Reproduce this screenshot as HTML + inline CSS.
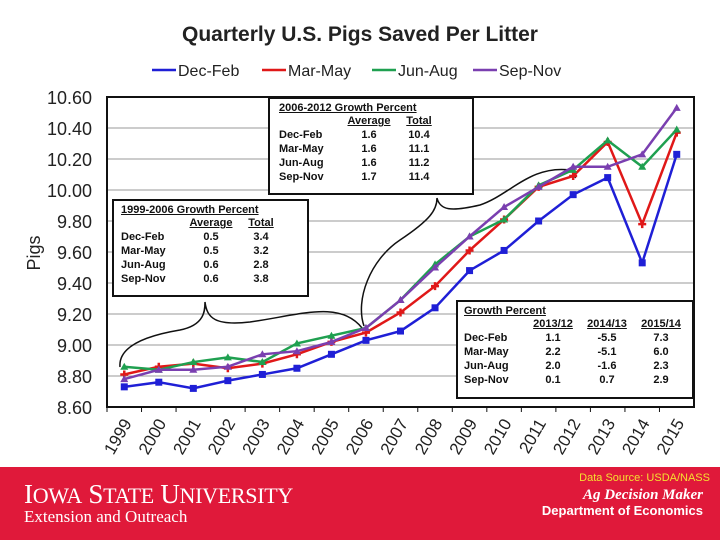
<!DOCTYPE html>
<html><head><meta charset="utf-8"><style>
body{margin:0;width:720px;height:540px;background:#fff;overflow:hidden;position:relative;font-family:"Liberation Sans",sans-serif}
.box{position:absolute;border:2px solid #111;background:#fff;font-weight:bold;font-size:11px;color:#111}
.box table{border-collapse:collapse}
.box td{padding:0 0 0 0;line-height:14px}
.u{text-decoration:underline}
</style></head><body>
<div style="position:absolute;left:0;width:720px;top:23px;text-align:center;font-weight:bold;font-size:21px;color:#222;padding-left:0">Quarterly U.S. Pigs Saved Per Litter</div>
<svg id="c" width="720" height="540" style="position:absolute;left:0;top:0"></svg>
<div class="box" style="left:268px;top:97px;width:193px;height:91px;padding:3px 0 0 9px">
<div class="u">2006-2012 Growth Percent</div>
<table><tr><td style="width:60px"></td><td class="u" style="width:60px;text-align:center">Average</td><td class="u" style="width:40px;text-align:center">Total</td></tr>
<tr><td>Dec-Feb</td><td align="center">1.6</td><td align="center">10.4</td></tr>
<tr><td>Mar-May</td><td align="center">1.6</td><td align="center">11.1</td></tr>
<tr><td>Jun-Aug</td><td align="center">1.6</td><td align="center">11.2</td></tr>
<tr><td>Sep-Nov</td><td align="center">1.7</td><td align="center">11.4</td></tr></table></div>
<div class="box" style="left:112px;top:199px;width:186px;height:91px;padding:3px 0 0 7px">
<div class="u">1999-2006 Growth  Percent</div>
<table><tr><td style="width:60px"></td><td class="u" style="width:60px;text-align:center">Average</td><td class="u" style="width:40px;text-align:center">Total</td></tr>
<tr><td>Dec-Feb</td><td align="center">0.5</td><td align="center">3.4</td></tr>
<tr><td>Mar-May</td><td align="center">0.5</td><td align="center">3.2</td></tr>
<tr><td>Jun-Aug</td><td align="center">0.6</td><td align="center">2.8</td></tr>
<tr><td>Sep-Nov</td><td align="center">0.6</td><td align="center">3.8</td></tr></table></div>
<div class="box" style="left:456px;top:300px;width:228px;height:92px;padding:3px 0 0 6px">
<div class="u">Growth Percent</div>
<table><tr><td style="width:62px"></td><td class="u" style="width:54px;text-align:center">2013/12</td><td class="u" style="width:54px;text-align:center">2014/13</td><td class="u" style="width:54px;text-align:center">2015/14</td></tr>
<tr><td>Dec-Feb</td><td align="center">1.1</td><td align="center">-5.5</td><td align="center">7.3</td></tr>
<tr><td>Mar-May</td><td align="center">2.2</td><td align="center">-5.1</td><td align="center">6.0</td></tr>
<tr><td>Jun-Aug</td><td align="center">2.0</td><td align="center">-1.6</td><td align="center">2.3</td></tr>
<tr><td>Sep-Nov</td><td align="center">0.1</td><td align="center">0.7</td><td align="center">2.9</td></tr></table></div>
<div style="position:absolute;left:0;top:467px;width:720px;height:73px;background:#e0193a">
<div style="position:absolute;left:24px;top:12px;color:#fff;font-family:'Liberation Serif',serif;font-size:27px;letter-spacing:-0.3px">I<span style="font-size:22px">OWA</span> S<span style="font-size:22px">TATE</span> U<span style="font-size:22px">NIVERSITY</span></div>
<div style="position:absolute;left:24px;top:40px;color:#fff;font-family:'Liberation Serif',serif;font-size:17px">Extension and Outreach</div>
<div style="position:absolute;right:10px;top:5px;color:#f5e030;font-size:11px">Data Source: USDA/NASS</div>
<div style="position:absolute;right:17px;top:20px;color:#fff;font-family:'Liberation Serif',serif;font-style:italic;font-weight:bold;font-size:15px">Ag Decision Maker</div>
<div style="position:absolute;right:17px;top:36px;color:#fff;font-weight:bold;font-size:13px">Department of Economics</div>
</div>
<script>
const years=['1999','2000','2001','2002','2003','2004','2005','2006','2007','2008','2009','2010','2011','2012','2013','2014','2015'];
const decFeb=[8.73,8.76,8.72,8.77,8.81,8.85,8.94,9.03,9.09,9.24,9.48,9.61,9.80,9.97,10.08,9.53,10.23];
const marMay=[8.81,8.86,8.88,8.85,8.88,8.94,9.02,9.08,9.21,9.38,9.61,9.81,10.02,10.09,10.31,9.78,10.37];
const junAug=[8.86,8.84,8.89,8.92,8.89,9.01,9.06,9.11,9.29,9.52,9.70,9.81,10.03,10.13,10.32,10.15,10.39];
const sepNov=[8.78,8.84,8.84,8.86,8.94,8.96,9.02,9.11,9.29,9.50,9.70,9.89,10.02,10.15,10.15,10.23,10.53];
const yTicks=[8.6,8.8,9.0,9.2,9.4,9.6,9.8,10.0,10.2,10.4,10.6];
const seriesNames=['Dec-Feb','Mar-May','Jun-Aug','Sep-Nov'];
const NS='http://www.w3.org/2000/svg',svg=document.getElementById('c');
const L=107,R=694,T=97,B=407,ymin=8.6,ymax=10.6;
const band=(R-L)/years.length;
const xs=i=>L+band*(i+0.5), ys=v=>B-(v-ymin)/(ymax-ymin)*(B-T);
function mk(t,a){const e=document.createElementNS(NS,t);for(const k in a)e.setAttribute(k,a[k]);svg.appendChild(e);return e;}
yTicks.forEach(v=>{
 const g=mk('line',{x1:L,x2:R,y1:ys(v),y2:ys(v),stroke:'#999','stroke-width':1});
 
 const t=mk('text',{x:92,y:ys(v)+7,'text-anchor':'end','font-size':18,fill:'#222','font-family':'Liberation Sans'});
 t.textContent=v.toFixed(2);
 
});
const fr=mk('rect',{x:L,y:T,width:R-L,height:B-T,fill:'none',stroke:'#111','stroke-width':2});

years.forEach((y,i)=>{
 const tk=mk('line',{x1:L+band*i,x2:L+band*i,y1:B,y2:B+5,stroke:'#111'});
 
 const t=mk('text',{transform:`translate(${xs(i)+8},${B+16}) rotate(-60)`,'text-anchor':'end','font-size':17,fill:'#222','font-family':'Liberation Sans'});
 t.textContent=y;
 
});
const yt=mk('text',{transform:'translate(40,253) rotate(-90)','text-anchor':'middle','font-size':18,fill:'#222','font-family':'Liberation Sans'});
yt.textContent='Pigs';
const b1=mk('path',{d:'M120,367 C118,345 150,335 180,330 C205,325 205,310 205,302 C207,318 215,326 250,322 C300,315 340,300 362,328',fill:'none',stroke:'#111','stroke-width':1.5});

const b2=mk('path',{d:'M364,326 C355,300 370,260 400,240 C430,220 437,210 437,198 C440,210 450,212 480,205 C510,195 530,165 570,170 C578,172 575,178 575,178',fill:'none',stroke:'#111','stroke-width':1.5});

const cols=['#1f1fd6','#e01818','#1fa050','#7a3fb0'];
const data=[decFeb,marMay,junAug,sepNov];
data.forEach((d,s)=>{
 const p=mk('polyline',{points:d.map((v,i)=>xs(i)+','+ys(v)).join(' '),fill:'none',stroke:cols[s],'stroke-width':2.5});
 
 d.forEach((v,i)=>{
  let m;
  if(s==0)m=mk('rect',{x:xs(i)-3.5,y:ys(v)-3.5,width:7,height:7,fill:cols[s]});
  else if(s==1)m=mk('path',{d:`M${xs(i)-4},${ys(v)}h8M${xs(i)},${ys(v)-4}v8`,stroke:cols[s],'stroke-width':2.5});
  else m=mk('path',{d:`M${xs(i)},${ys(v)-4}l4,7h-8z`,fill:cols[s]});
  
 });
});
const lx=[152,262,372,473];
seriesNames.forEach((n,s)=>{
 const g=mk('g',{});
 
 const l=document.createElementNS(NS,'line');
 [['x1',lx[s]],['x2',lx[s]+24],['y1',70],['y2',70],['stroke',cols[s]],['stroke-width',2.5]].forEach(a=>l.setAttribute(a[0],a[1]));g.appendChild(l);
 const t=document.createElementNS(NS,'text');
 [['x',lx[s]+26],['y',76],['font-size',16],['fill','#222'],['font-family','Liberation Sans']].forEach(a=>t.setAttribute(a[0],a[1]));
 t.textContent=n;g.appendChild(t);
});
</script>
</body></html>
